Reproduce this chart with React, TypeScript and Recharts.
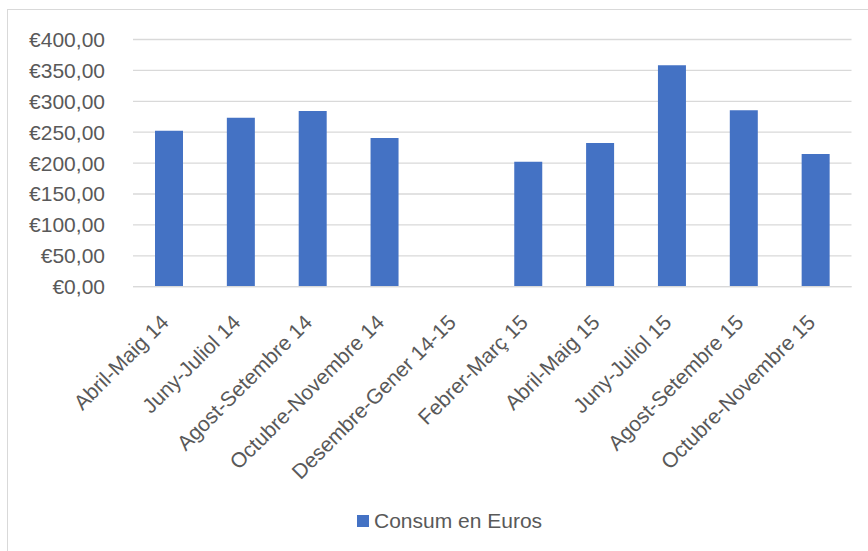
import React from "react";
import { BarChart, Bar, XAxis, YAxis, CartesianGrid, Legend } from "recharts";

const categories = [
  "Abril-Maig 14",
  "Juny-Juliol 14",
  "Agost-Setembre 14",
  "Octubre-Novembre 14",
  "Desembre-Gener 14-15",
  "Febrer-Març 15",
  "Abril-Maig 15",
  "Juny-Juliol 15",
  "Agost-Setembre 15",
  "Octubre-Novembre 15",
];
const consum: (number | null)[] = [252.5, 273.5, 284.4, 240.6, null, 202.2, 232.5, 358.3, 285.4, 214.7];
const yTicks = [0, 50, 100, 150, 200, 250, 300, 350, 400];
const seriesName = "Consum en Euros";

const data = categories.map((c, i) => ({ name: c, value: consum[i] }));

const FONT = "'Liberation Sans', Arial, sans-serif";
const TEXT = "#595959";
const GRID = "#d9d9d9";
const BLUE = "#4472C4";

const fmt = (v: number) => "€" + v.toFixed(2).replace(".", ",");

const XTick = (props: any) => {
  const { x, y, payload } = props;
  return (
    <g transform={`translate(${x + 1},${y + 37}) rotate(-45)`}>
      <text textAnchor="end" fill={TEXT} fontSize={21} fontFamily={FONT}>
        {payload.value}
      </text>
    </g>
  );
};

const LegendContent = () => (
  <div style={{ display: "flex", alignItems: "center", fontFamily: FONT, fontSize: 21, color: TEXT }}>
    <span style={{ width: 12, height: 12, background: BLUE, display: "inline-block", marginRight: 5 }} />
    <span>{seriesName}</span>
  </div>
);

export default function App() {
  return (
    <div style={{ position: "absolute", left: 0, top: 0, width: 868, height: 551, background: "#fff", overflow: "hidden" }}>
      <div
        style={{
          position: "absolute",
          left: 7,
          top: 9,
          width: 900,
          height: 600,
          border: "1.5px solid #d9d9d9",
        }}
      />
      <div style={{ position: "absolute", left: 0, top: 0 }}>
        <BarChart
          width={868}
          height={551}
          data={data}
          margin={{ top: 39.5, right: 16.5, bottom: 0, left: 0 }}
        >
          <CartesianGrid vertical={false} stroke={GRID} strokeWidth={1.3} />
          <YAxis
            width={133}
            domain={[0, 400]}
            ticks={yTicks}
            interval={0}
            axisLine={false}
            tickLine={false}
            tickSize={0}
            tickMargin={28}
            tickFormatter={fmt}
            tick={{ fill: TEXT, fontSize: 21, fontFamily: FONT }}
          />
          <XAxis
            dataKey="name"
            height={264.3}
            interval={0}
            tickLine={false}
            tickSize={0}
            tickMargin={0}
            axisLine={{ stroke: GRID, strokeWidth: 1.3 }}
            tick={<XTick />}
          />
          <Legend
            layout="horizontal"
            verticalAlign="middle"
            align="center"
            content={<LegendContent />}
            wrapperStyle={{ position: "absolute", left: 357, top: 509, width: "auto" }}
          />
          <Bar dataKey="value" name={seriesName} fill={BLUE} barSize={28} isAnimationActive={false} />
        </BarChart>
      </div>
    </div>
  );
}
